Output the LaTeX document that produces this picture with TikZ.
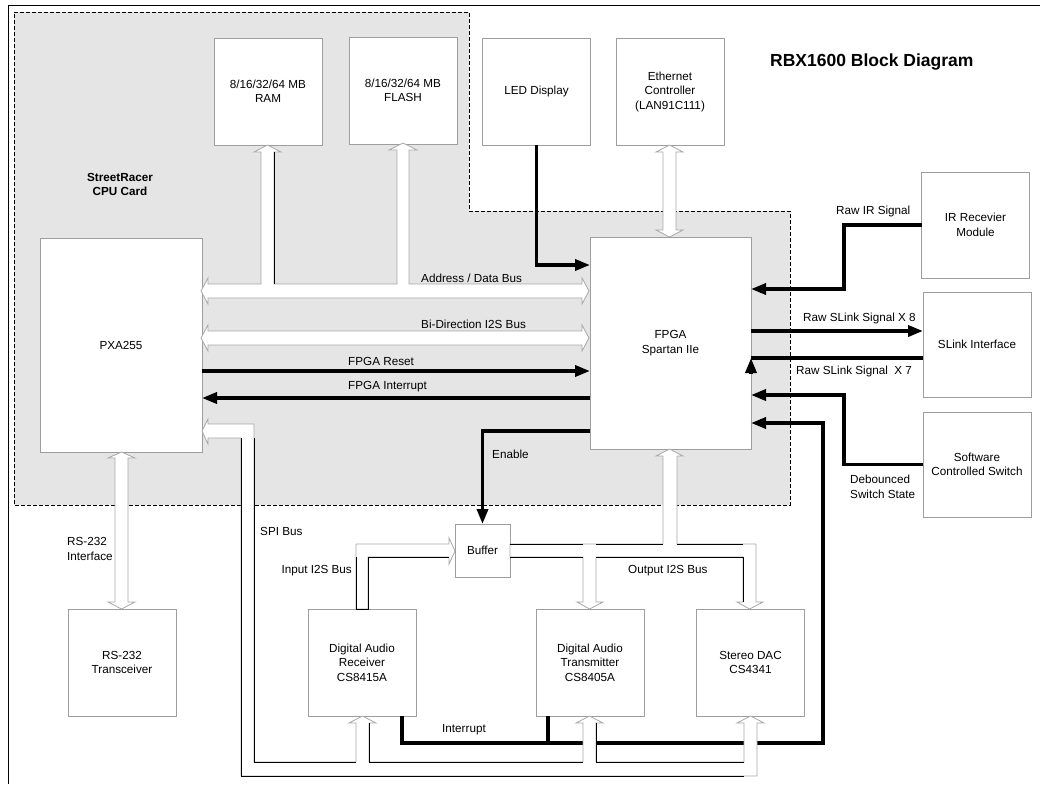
\documentclass[tikz,border=0pt]{standalone}
\usepackage{fontspec}
\setmainfont{Liberation Sans}
\usetikzlibrary{arrows.meta}
\definecolor{cardgray}{gray}{0.9}
\definecolor{boxgray}{gray}{0.62}
\definecolor{pipegray}{gray}{0.66}
\def\blocknode{\node[draw=boxgray,fill=white,line width=0.8pt,align=center,inner sep=0pt,outer sep=0pt,minimum width=108pt,minimum height=107pt,font=\fontsize{11.7}{14.5}\selectfont]}
\def\labnode{\node[inner sep=0pt,font=\fontsize{11.7}{14.5}\selectfont]}
\def\drawsig{\draw[line width=3.5pt,-{Triangle[length=15pt,width=11pt]}]}
\def\drawwire{\draw[line width=3.5pt]}
\def\drawpipe{\draw[draw=pipegray,fill=white,line width=0.8pt]}
\def\drawrim{\draw[line width=0.8pt]}

\begin{document}
\begin{tikzpicture}[x=1pt,y=-1pt]
\useasboundingbox (0,0) rectangle (1043,784);
\draw[line width=0.8pt] (1040,5) -- (8,5) -- (8,784);
\fill[cardgray] (14,12) -- (469,12) -- (469,211) -- (790,211) -- (790,505) -- (14,505) -- cycle;
\draw[line width=0.7pt,dash pattern=on 4pt off 2pt] (14,12) -- (469,12) -- (469,211) -- (790,211) -- (790,505) -- (14,505) -- cycle;
\labnode (title) [anchor=west,font=\fontsize{17.5}{20}\selectfont\bfseries] at (770,62) {RBX1600 Block Diagram};
\labnode (card) [align=center,font=\fontsize{11.7}{14.5}\selectfont\bfseries] at (120,184.5) {StreetRacer\\CPU Card};

\blocknode (ram) at (268,91.5) {8/16/32/64 MB\\RAM};
\blocknode (flash) at (403,90.5) {8/16/32/64 MB\\FLASH};
\blocknode (led) at (536.5,91.5) {LED Display};
\blocknode (eth) at (670,91.5) {Ethernet\\Controller\\(LAN91C111)};
\blocknode (pxa) [minimum width=162pt,minimum height=214pt] at (121,345) {PXA255};
\blocknode (fpga) [minimum width=161pt,minimum height=212pt] at (670.5,343) {FPGA\\Spartan IIe};
\blocknode (ir) [minimum height=106pt] at (975.5,225) {IR Recevier\\Module};
\blocknode (slink) [minimum height=105pt] at (977,344.5) {SLink Interface};
\blocknode (sw) [minimum height=105pt] at (977,464.5) {Software\\Controlled Switch};
\blocknode (buf) [minimum width=55pt,minimum height=53pt] at (482.5,550.5) {Buffer};
\blocknode (rs) at (122,662.5) {RS-232\\Transceiver};
\blocknode (rx) at (362,662.5) {Digital Audio\\Receiver\\CS8415A};
\blocknode (tx) at (590,662.5) {Digital Audio\\Transmitter\\CS8405A};
\blocknode (dac) at (750.5,662.5) {Stereo DAC\\CS4341};

\coordinate (ledin) at (0,265);
\coordinate (rst) at (0,371);
\coordinate (fint) at (0,398);
\coordinate (en) at (0,431);
\coordinate (irbend) at (844,289);
\coordinate (sl8) at (0,331);
\coordinate (sl7) at (0,358);
\coordinate (sl7b) at (0,374);
\coordinate (dbbend) at (844,395);
\coordinate (irqin) at (0,423);
\coordinate (irqbend) at (823,743);
\coordinate (rxint) at (402,716);
\coordinate (txint) at (548,716);

\drawsig (led.south) |- (fpga.west |- ledin);
\drawsig (pxa.east |- rst) -- (fpga.west |- rst);
\drawsig (fpga.west |- fint) -- (pxa.east |- fint);
\drawsig (fpga.west |- en) -| (buf.north);
\drawsig (ir.west) -| (irbend) -- (fpga.east |- irbend);
\drawsig (fpga.east |- sl8) -- (slink.west |- sl8);
\drawwire (slink.west |- sl7) -- (fpga.east |- sl7);
\drawsig (fpga.east |- sl7b) -- (fpga.east |- sl7);
\drawsig (sw.west) -| (dbbend) -- (fpga.east |- dbbend);
\drawsig (rxint) |- (irqbend) |- (fpga.east |- irqin);
\drawwire (txint) -- (txint |- irqbend);

\drawpipe (201,291) -- (208,278) -- (208,284) -- (261,284) -- (261,152) -- (254,152) -- (267.5,145) -- (281,152) -- (274,152) -- (274,284) -- (397,284) -- (397,150) -- (389,150) -- (403,143) -- (417,150) -- (409,150) -- (409,284) -- (582,284) -- (582,278) -- (589,291) -- (582,304) -- (582,298) -- (208,298) -- (208,304) -- cycle;
\drawrim (274,152) -- (274,284);
\drawpipe (201,338) -- (208,325) -- (208,331) -- (582,331) -- (582,325) -- (589,338) -- (582,351) -- (582,345) -- (208,345) -- (208,351) -- cycle;
\drawpipe (669.5,145) -- (683,152) -- (676,152) -- (676,230) -- (683,230) -- (669.5,237) -- (656,230) -- (663,230) -- (663,152) -- (656,152) -- cycle;
\drawpipe (121.5,452) -- (135,458) -- (128,458) -- (128,602) -- (135,602) -- (121.5,609) -- (108,602) -- (115,602) -- (115,458) -- (108,458) -- cycle;
\drawpipe (202,431) -- (208,419) -- (208,424) -- (254,424) -- (254,762) -- (356,762) -- (356,723) -- (349,723) -- (362.5,716) -- (376,723) -- (369,723) -- (369,762) -- (583,762) -- (583,723) -- (576,723) -- (589.5,716) -- (603,723) -- (596,723) -- (596,762) -- (744,762) -- (744,723) -- (737,723) -- (750.5,716) -- (764,723) -- (757,723) -- (757,776) -- (241,776) -- (241,438) -- (208,438) -- (208,444) -- cycle;
\drawrim (241,438) -- (241,776) -- (744,776);
\drawrim (254,438) -- (254,762) -- (356,762);
\drawrim (369,723) -- (369,762) -- (583,762);
\drawrim (596,723) -- (596,762) -- (744,762);
\drawpipe (356,609) -- (356,544) -- (449,544) -- (449,538) -- (455,551) -- (449,564) -- (449,557) -- (368,557) -- (368,609) -- cycle;
\drawrim (356,557) -- (356,609) -- (368,609) -- (368,557) -- (449,557);
\drawpipe (510,544) -- (663,544) -- (663,456) -- (656,456) -- (669.5,449) -- (683,456) -- (677,456) -- (677,544) -- (756,544) -- (756,602) -- (763,602) -- (749.5,609) -- (737,602) -- (743,602) -- (743,557) -- (596,557) -- (596,602) -- (603,602) -- (589.5,609) -- (577,602) -- (583,602) -- (583,557) -- (510,557) -- cycle;
\drawrim (510,544) -- (583,544);
\drawrim (596,544) -- (663,544);
\drawrim (677,544) -- (743,544);
\drawrim (510,557) -- (583,557);
\drawrim (596,557) -- (743,557) -- (743,602);

\labnode (adlbl) [anchor=west] at (421,278) {Address / Data Bus};
\labnode (i2slbl) [anchor=west] at (421,324) {Bi-Direction I2S Bus};
\labnode (rstlbl) [anchor=west] at (348,361) {FPGA Reset};
\labnode (fintlbl) [anchor=west] at (348,387) {FPGA Interrupt};
\labnode (enlbl) [anchor=west] at (492,454) {Enable};
\labnode (irlbl) [anchor=west] at (836,211) {Raw IR Signal};
\labnode (sl8lbl) [anchor=west] at (803,318) {Raw SLink Signal X 8};
\labnode (sl7lbl) [anchor=west] at (796,371) {Raw SLink Signal\ \ X 7};
\labnode (dblbl) [anchor=west,align=left] at (850,487) {Debounced\\Switch State};
\labnode (rslbl) [anchor=west,align=left] at (67,549) {RS-232\\Interface};
\labnode (spilbl) [anchor=west] at (260,531) {SPI Bus};
\labnode (inlbl) [anchor=east] at (352,571) {Input I2S Bus};
\labnode (outlbl) [anchor=west] at (628,571) {Output I2S Bus};
\labnode (irqlbl) [anchor=west] at (442,730) {Interrupt};
\end{tikzpicture}
\end{document}
